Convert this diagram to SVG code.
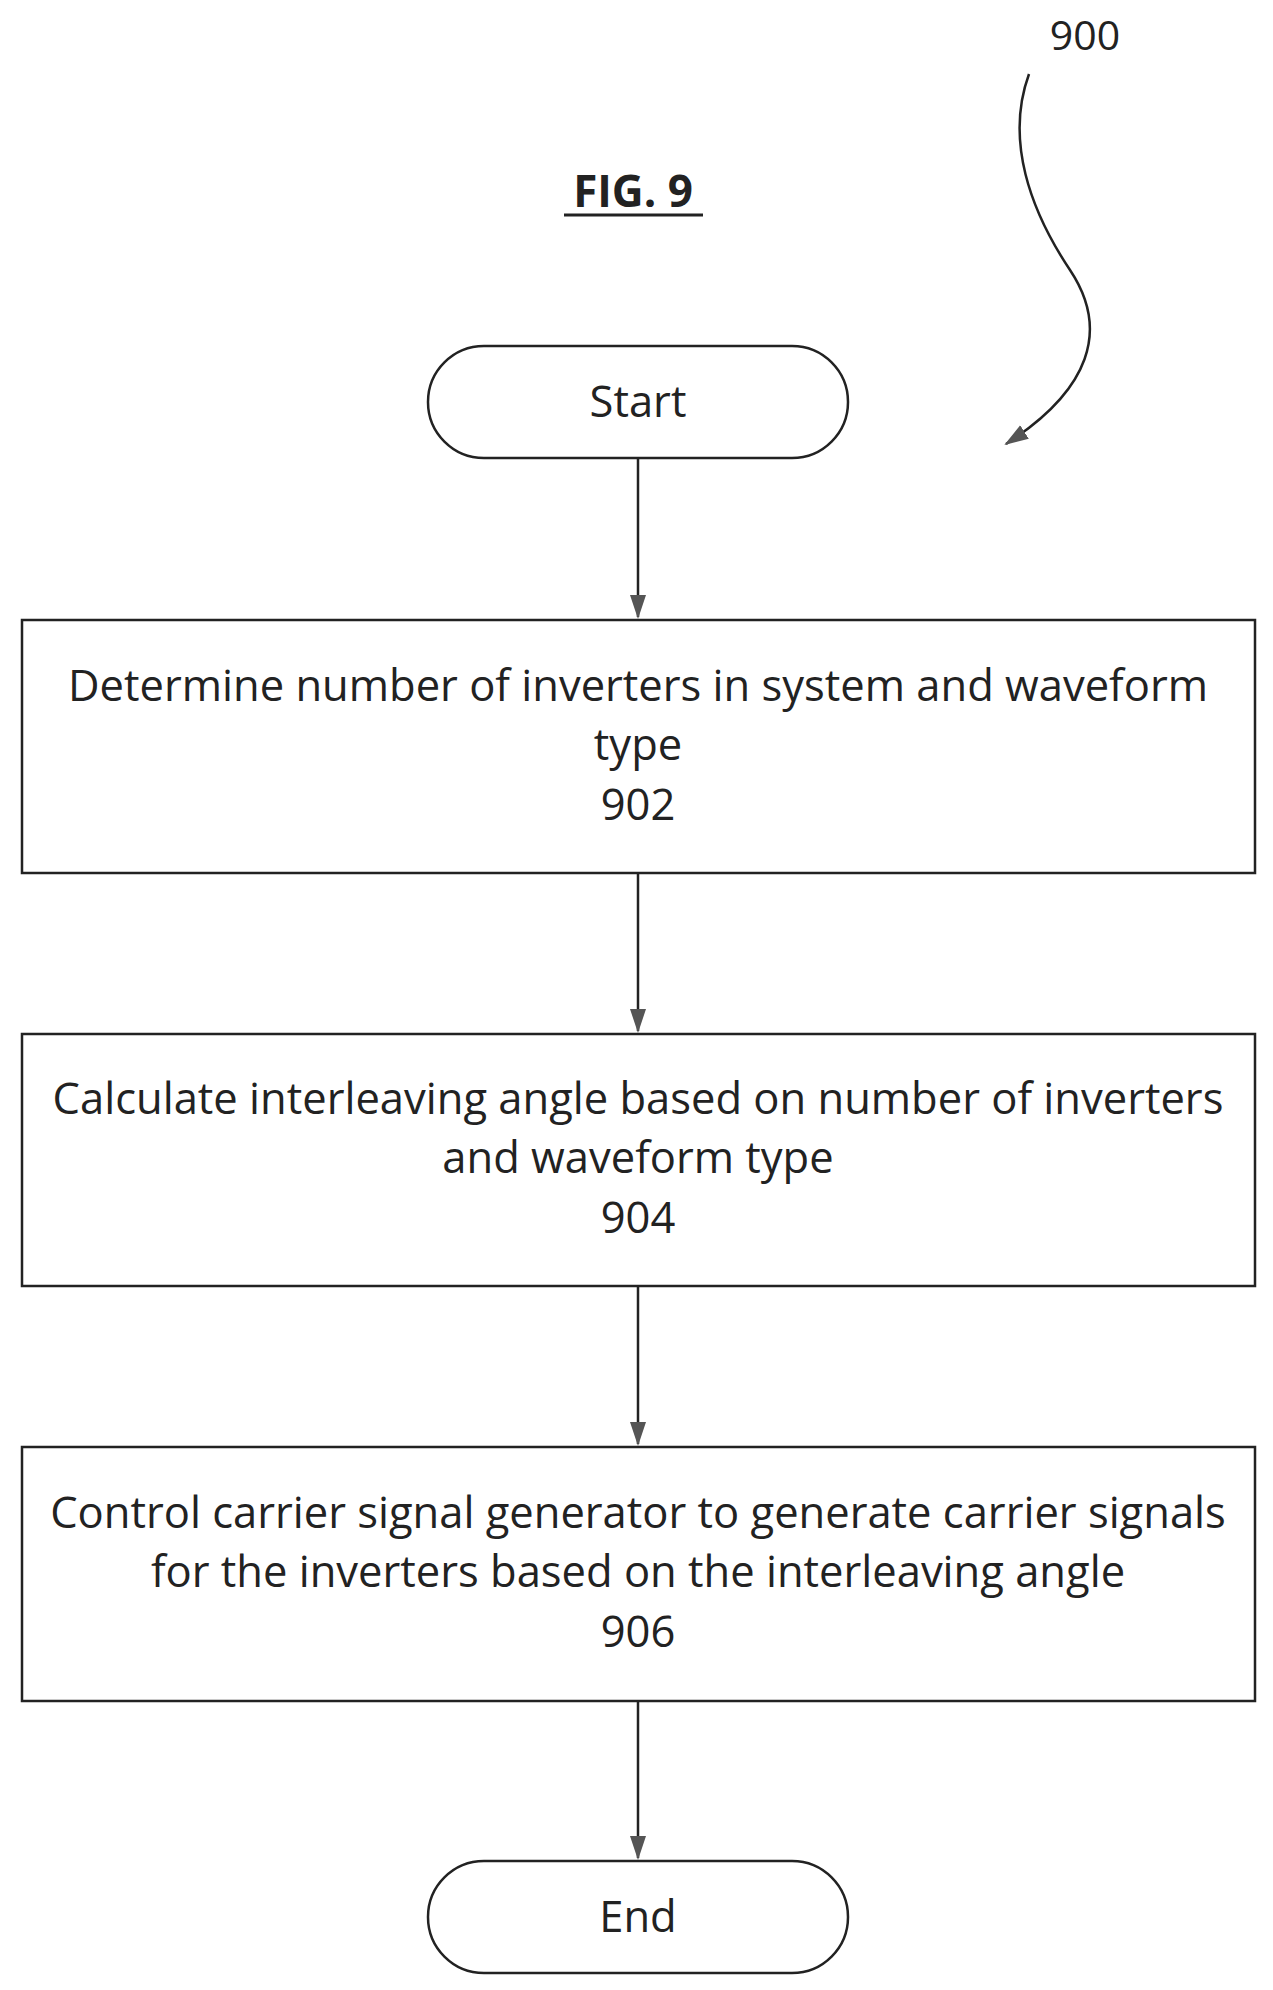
<svg xmlns="http://www.w3.org/2000/svg" width="1273" height="1990" viewBox="0 0 1273 1990">
<style>
.b{fill:#fff;stroke:#222;stroke-width:2.5}
.t{font-family:"Open Sans","Liberation Sans",sans-serif;font-size:43.5px;fill:#222;text-anchor:middle}
.c{stroke:#222;stroke-width:2.5;fill:none}
</style>
<defs><marker id="h" markerWidth="24" markerHeight="24" refX="22" refY="12" orient="auto" markerUnits="userSpaceOnUse" viewBox="0 0 24 24"><path d="M0,4 L24,12 L0,20 z" fill="#555"/></marker></defs>
<rect width="1273" height="1990" fill="#fff"/>
<text x="1085" y="50" class="t" style="font-size:41px">900</text>
<g id="fig"><text x="633" y="207" class="t" style="font-weight:bold;font-size:44px">FIG. 9</text><line x1="564" y1="215" x2="703" y2="215" stroke="#222" stroke-width="3"/></g>
<g id="connectors">
<path class="c" d="M1029,74 C1005,140 1030,210 1070,270 C1110,330 1090,390 1006,444" marker-end="url(#h)"/>
<line class="c" x1="638" y1="458" x2="638" y2="617" marker-end="url(#h)"/>
<line class="c" x1="638" y1="873" x2="638" y2="1031" marker-end="url(#h)"/>
<line class="c" x1="638" y1="1286" x2="638" y2="1444" marker-end="url(#h)"/>
<line class="c" x1="638" y1="1701" x2="638" y2="1858" marker-end="url(#h)"/>
</g>
<g id="start"><rect class="b" x="428" y="346" width="420" height="112" rx="56"/><text x="638" y="417" class="t">Start</text></g>
<g id="n902"><rect class="b" x="22" y="620" width="1233" height="253"/><text class="t" x="638" y="701">Determine number of inverters in system and waveform</text><text class="t" x="638" y="760">type</text><text class="t" x="638" y="820">902</text></g>
<g id="n904"><rect class="b" x="22" y="1034" width="1233" height="252"/><text class="t" x="638" y="1114">Calculate interleaving angle based on number of inverters</text><text class="t" x="638" y="1173">and waveform type</text><text class="t" x="638" y="1233">904</text></g>
<g id="n906"><rect class="b" x="22" y="1447" width="1233" height="254"/><text class="t" x="638" y="1528">Control carrier signal generator to generate carrier signals</text><text class="t" x="638" y="1587">for the inverters based on the interleaving angle</text><text class="t" x="638" y="1647">906</text></g>
<g id="end"><rect class="b" x="428" y="1861" width="420" height="112" rx="56"/><text x="638" y="1932" class="t">End</text></g>
</svg>
